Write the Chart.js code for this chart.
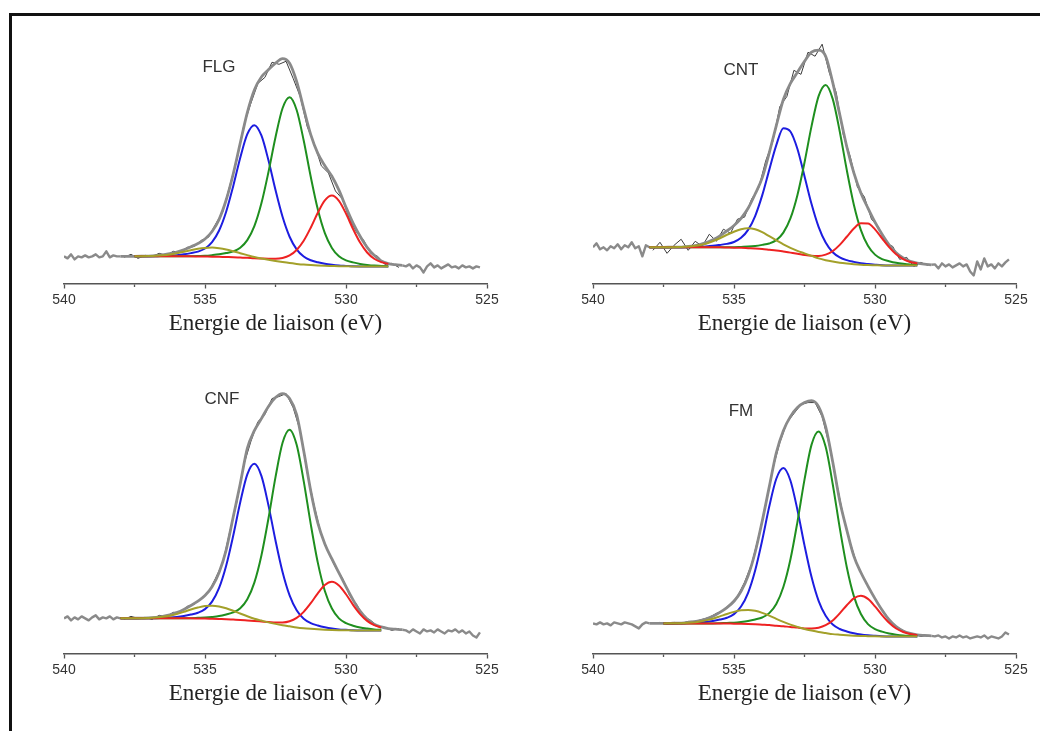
<!DOCTYPE html>
<html><head><meta charset="utf-8">
<script src="https://cdn.jsdelivr.net/npm/chart.js@4.4.1/dist/chart.umd.min.js"></script>
<style>
html,body{margin:0;padding:0;background:#fff;}
#page{position:relative;width:1040px;height:731px;overflow:hidden;background:#fff;}
#frame{position:absolute;left:9px;top:13px;width:1100px;height:800px;border-left:3px solid #111;border-top:3px solid #111;}
canvas{position:absolute;}
.lbl{position:absolute;font-family:"Liberation Sans",Arial,sans-serif;font-size:17px;color:#333;transform:translate(-50%,-50%);white-space:nowrap;}
</style></head>
<body><div id="page"><div id="frame"></div>
<canvas id="cFLG" width="520" height="350" style="left:0px;top:0px"></canvas>
<canvas id="cCNT" width="520" height="350" style="left:520px;top:0px"></canvas>
<canvas id="cCNF" width="520" height="361" style="left:0px;top:370px"></canvas>
<canvas id="cFM" width="520" height="361" style="left:520px;top:370px"></canvas>
<div class="lbl" style="left:219px;top:67px">FLG</div>
<div class="lbl" style="left:741px;top:70px">CNT</div>
<div class="lbl" style="left:222px;top:399px">CNF</div>
<div class="lbl" style="left:741px;top:411px">FM</div>
</div>
<script>
// Binding energy grids (eV)
const energy = [538, 537.75, 537.5, 537.25, 537, 536.75, 536.5, 536.25, 536, 535.75, 535.5, 535.25, 535, 534.75, 534.5, 534.25, 534, 533.75, 533.5, 533.25, 533, 532.75, 532.5, 532.25, 532, 531.75, 531.5, 531.25, 531, 530.75, 530.5, 530.25, 530, 529.75, 529.5, 529.25, 529, 528.75, 528.5, 528.25, 528];
const rawE = [537.875, 537.625, 537.375, 537.125, 536.875, 536.625, 536.375, 536.125, 535.875, 535.625, 535.375, 535.125, 534.875, 534.625, 534.375, 534.125, 533.875, 533.625, 533.375, 533.125, 532.875, 532.625, 532.375, 532.125, 531.875, 531.625, 531.375, 531.125, 530.875, 530.625, 530.375, 530.125, 529.875, 529.625, 529.375, 529.125, 528.875, 528.625, 528.375, 528.125];
const tailLeftE = [540, 539.875, 539.75, 539.625, 539.5, 539.375, 539.25, 539.125, 539, 538.875, 538.75, 538.625, 538.5, 538.375, 538.25, 538.125];
const tailRightE = [527.875, 527.75, 527.625, 527.5, 527.375, 527.25, 527.125, 527, 526.875, 526.75, 526.625, 526.5, 526.375, 526.25, 526.125, 526, 525.875, 525.75, 525.625, 525.5, 525.375, 525.25];

// FLG
const flgBlue = [null, null, 27, 27, 27, 27.1, 27.4, 27.7, 28.2, 29, 30.2, 31.7, 34.8, 41.2, 52.7, 71.4, 96.8, 125.1, 148.5, 157.5, 147.2, 122.5, 92.9, 66.3, 46.5, 34, 26.8, 23.1, 21.1, 19.6, 18.6, 17.9, 17.5, 17.1, 17, 17, 17, 17, 17, null, null];
const flgGreen = [null, null, 27, 27, 27, 27, 27, 27, 27, 27, 27.2, 27.4, 27.6, 28.2, 29, 30.3, 31.9, 35.5, 43.1, 57, 79.7, 110.8, 145.5, 174.3, 185.3, 172.6, 142.2, 106.1, 73.8, 50.1, 35.4, 27.1, 23, 21, 19.5, 18.5, 17.8, 17.5, 17.2, null, null];
const flgRed = [null, null, 27, 27, 27, 27, 27, 27, 27, 27, 27, 26.9, 26.8, 26.7, 26.5, 26.3, 26.1, 25.8, 25.5, 25.1, 24.9, 24.7, 24.6, 25.4, 27.9, 33.3, 42.5, 55.5, 70.3, 82.6, 87.4, 82.2, 69.5, 54.2, 40.7, 30.8, 24.6, 21.2, 19.5, null, null];
const flgOlive = [null, null, 27, 27.1, 27.3, 27.6, 28.1, 28.9, 30.1, 31.5, 33.1, 34.5, 35.4, 35.7, 35.1, 33.9, 32.1, 30.1, 28.2, 26.4, 24.9, 23.6, 22.4, 21.3, 20.3, 19.5, 18.8, 18.3, 17.9, 17.6, 17.4, 17.2, 17.1, 17, 17, 17, 17, 17, 17, null, null];
const flgEnvelope = [27, 27, 27, 27.1, 27.3, 27.7, 28.5, 29.6, 31.3, 33.5, 36.5, 39.8, 44.2, 51.7, 63.8, 83, 108.9, 139.7, 170, 192.5, 205.3, 212.6, 219.1, 223.7, 219.1, 200.9, 173.9, 148.1, 129.4, 117.1, 106.6, 92.8, 75.8, 60, 47, 36, 28, 22.5, 19.8, 18.7, 18.1];
const flgRaw = [26, 29, 25, 28, 27, 30, 28, 32, 31, 36, 37, 43, 46, 59, 71, 97, 122, 157, 179, 199, 205, 220, 218, 221, 204, 186, 156, 139, 117, 110, 92, 84, 64, 51, 43, 30, 27, 19, 20, 16];
const flgTailLeft = [27, 25, 29, 24, 27, 26, 28, 26, 27, 29, 26, 27, 32, 26, 28, 27];
const flgTailRight = [17, 19, 15, 18, 16, 11, 17, 20, 16, 18, 15, 17, 19, 16, 17, 15, 18, 16, 17, 15, 17, 16];

// CNT
const cntBlue = [36, 36, 36, 36, 36, 36, 36.2, 36.5, 36.9, 37.5, 38.4, 39.4, 41.3, 45.4, 53.3, 67.1, 87.6, 113, 137.6, 154.5, 151.2, 133.8, 106.7, 79, 56.3, 40.7, 31.1, 26, 23.2, 21.5, 20.1, 19.3, 18.7, 18.2, 18, 18, 18, 18, 18, null, null];
const cntGreen = [36, 36, 36, 36, 36, 36, 36, 36, 36, 36, 36, 36, 36.1, 36.4, 36.7, 37.3, 38.4, 39.8, 43.1, 50.6, 64.7, 88.1, 120.3, 156.5, 186.3, 197.5, 183.6, 151.2, 112.7, 78.4, 53.1, 37.5, 28.7, 24.3, 22.2, 20.6, 19.6, 18.9, 18.5, null, null];
const cntRed = [36, 36, 36, 36, 36, 36, 36, 36, 36, 36, 36, 35.8, 35.6, 35.5, 35.1, 34.7, 34.2, 33.5, 32.8, 31.8, 30.7, 29.6, 28.4, 27.5, 27.3, 28.7, 32.2, 38.4, 46.5, 54.7, 59.8, 59.6, 53.8, 44.9, 36.1, 29, 24.2, 21.4, 19.9, null, null];
const cntOlive = [36, 36, 36, 36.1, 36.2, 36.5, 37, 38, 39.5, 42, 45, 48.5, 51.5, 54, 55, 54, 51, 47, 43, 39, 35.5, 32.5, 30, 27.5, 25, 23.2, 21.8, 20.6, 19.8, 19.2, 18.7, 18.4, 18.2, 18, 18, 18, 18, 18, 18, null, null];
const cntEnvelope = [36, 36, 36, 36.1, 36.2, 36.5, 37.2, 38.5, 40.4, 43.5, 47.4, 52.3, 57.7, 64.8, 74.8, 89, 105, 130, 157, 183, 199, 210, 221, 230, 232, 226, 200, 168, 136, 110, 90, 75, 61, 49, 38.5, 30.5, 25.3, 22, 20.2, 19.2, 18.6];
const cntRaw = [33, 41, 30, 38, 44, 33, 42, 37, 49, 42, 54, 50, 64, 66, 84, 95, 122, 141, 176, 186, 212, 208, 230, 226, 238, 210, 190, 148, 126, 96, 86, 64, 56, 40, 37, 24, 26, 17, 21, 18];
const cntTailLeft = [36, 40, 34, 36, 33, 37, 35, 39, 34, 38, 36, 41, 35, 37, 27, 38];
const cntTailRight = [19, 15, 20, 17, 19, 16, 18, 20, 17, 19, 12, 8, 22, 14, 25, 17, 19, 15, 20, 17, 21, 24];

// CNF
const cnfBlue = [35, 35, 35, 35, 35, 35.2, 35.5, 35.8, 36.4, 37.4, 38.8, 40.6, 44.2, 51.7, 65.3, 87.4, 117.3, 150.7, 178.4, 189, 176.9, 147.6, 112.6, 81.2, 57.9, 43.1, 34.6, 30.3, 27.9, 26.1, 24.8, 24, 23.6, 23.2, 23, 23, 23, 23, null, null, null];
const cnfGreen = [35, 35, 35, 35, 35, 35, 35, 35, 35, 35, 35.2, 35.5, 35.8, 36.4, 37.3, 38.9, 40.9, 45.1, 54.1, 70.6, 97.6, 134.5, 175.7, 209.9, 223, 207.9, 171.8, 128.9, 90.5, 62.3, 44.8, 35, 30.2, 27.7, 25.9, 24.8, 24, 23.6, null, null, null];
const cnfRed = [35, 35, 35, 35, 35, 35, 35, 35, 35, 35, 35, 34.9, 34.8, 34.6, 34.4, 34.2, 33.8, 33.4, 32.9, 32.4, 31.9, 31.4, 30.8, 30.9, 32.2, 35.5, 41.5, 50.1, 60, 68.2, 71.4, 67.7, 59, 48.5, 39.3, 32.5, 28.2, 25.9, null, null, null];
const cnfOlive = [35, 35, 35.1, 35.2, 35.4, 35.8, 36.6, 37.7, 39.4, 41.5, 43.8, 45.8, 47.3, 47.6, 46.9, 45.1, 42.6, 39.8, 37.1, 34.7, 32.8, 31, 29.5, 28.2, 27.1, 26, 25.2, 24.6, 24.1, 23.7, 23.4, 23.2, 23.1, 23, 23, 23, 23, 23, null, null, null];
const cnfEnvelope = [35, 35, 35.1, 35.2, 35.4, 36, 37.1, 38.5, 40.8, 43.9, 47.8, 52.1, 57.7, 66.5, 80.7, 103, 136, 169.1, 204.4, 222, 234, 246, 255, 259, 254, 238, 202, 162, 130.2, 109.2, 94.2, 80.3, 66.6, 53.4, 42.2, 34.3, 29.2, 26.5, 24.9, 24.2, 23.7];
const cnfRaw = [34, 37, 35, 36, 34, 38, 37, 41, 41, 47, 49, 55, 61, 75, 90, 121, 150, 188, 211, 231, 238, 254, 256, 259, 245, 222, 180, 147, 118, 101, 86, 75, 58, 49, 37, 33, 27, 26, 23, 25];
const cnfTailLeft = [35, 37, 33, 36, 34, 37, 35, 33, 36, 38, 34, 36, 35, 37, 34, 36];
const cnfTailRight = [23, 21, 24, 22, 20, 24, 22, 23, 21, 24, 22, 20, 23, 22, 24, 21, 23, 20, 22, 18, 16, 21];

// FM
const fmBlue = [null, null, 30, 30, 30, 30.2, 30.5, 30.8, 31.4, 32.4, 33.8, 35.6, 39.2, 46.8, 60.5, 82.7, 112.8, 146.4, 174.1, 184.8, 172.4, 143, 107.7, 76.1, 52.4, 37.5, 28.8, 24.4, 22, 20.2, 18.9, 18.1, 17.6, 17.2, 17, 17, 17, 17, 17, null, null];
const fmGreen = [null, null, 30, 30, 30, 30, 30, 30, 30, 30, 30.2, 30.5, 30.7, 31.4, 32.4, 33.9, 35.9, 40.2, 49.3, 66.2, 93.6, 131.2, 173.2, 208.1, 221.3, 205.9, 168.9, 125.1, 86, 57.2, 39.3, 29.3, 24.3, 21.8, 20, 18.8, 18, 17.6, 17.2, null, null];
const fmRed = [null, null, 30, 30, 30, 30, 30, 30, 30, 30, 30, 29.9, 29.7, 29.6, 29.4, 29.1, 28.7, 28.3, 27.7, 27.2, 26.4, 25.8, 25, 24.9, 25.7, 28.2, 32.9, 40, 48.1, 54.9, 57.5, 54.4, 47, 38.3, 30.6, 24.9, 21.4, 19.4, 18.4, null, null];
const fmOlive = [null, null, 30, 30.1, 30.2, 30.4, 30.9, 31.7, 33, 34.7, 37, 39.4, 41.5, 43, 43.4, 42.5, 40.5, 37.7, 34.5, 31.5, 28.8, 26.5, 24.5, 22.9, 21.5, 20.4, 19.3, 18.7, 18.2, 17.8, 17.5, 17.3, 17.1, 17, 17, 17, 17, 17, 17, null, null];
const fmEnvelope = [30, 30, 30, 30.1, 30.2, 30.6, 31.4, 32.5, 34.4, 37.1, 41, 45.7, 52, 62, 77.5, 100.9, 131.8, 166, 200, 222, 236, 245, 250, 252, 246, 226, 191, 152, 123, 97, 80.7, 67.2, 54.7, 43.3, 33.6, 26.7, 22.4, 20, 18.6, 18, 17.6];
const fmRaw = [30, 31, 29, 31, 30, 32, 32, 34, 36, 40, 43, 50, 57, 71, 89, 117, 148, 184, 210, 230, 239, 248, 250, 250, 236, 208, 172, 137, 110, 88, 74, 61, 49, 39, 29, 25, 21, 19, 17, 18];
const fmTailLeft = [30, 29, 31, 29, 30, 28, 31, 30, 29, 31, 30, 29, 27, 25, 29, 31];
const fmTailRight = [17, 18, 16, 17, 15, 17, 16, 18, 16, 17, 15, 16, 17, 16, 18, 15, 17, 16, 15, 17, 21, 19];

const axisTitle = 'Energie de liaison (eV)';
const COLORS = {blue:'#1d1de0', green:'#1f8f1f', red:'#ee2222', olive:'#a3a02a', gray:'#8a8a8a', raw:'#3c3c3c'};

function pts(xs, ys) { return xs.map((x, i) => ({x: x, y: ys[i]})); }

function makePanel(id, d, pad) {
  const leftPts = pts(tailLeftE, d.tailL).concat([{x: energy[0], y: d.env[0]}]);
  const rightPts = [{x: energy[energy.length - 1], y: d.env[d.env.length - 1]}].concat(pts(tailRightE, d.tailR));
  const smooth = {cubicInterpolationMode: 'monotone', borderWidth: 2, pointRadius: 0, spanGaps: false};
  new Chart(document.getElementById(id), {
    type: 'line',
    data: {datasets: [
      Object.assign({label: 'C4', data: pts(energy, d.olive), borderColor: COLORS.olive}, smooth),
      Object.assign({label: 'C3', data: pts(energy, d.red), borderColor: COLORS.red}, smooth),
      Object.assign({label: 'C2', data: pts(energy, d.green), borderColor: COLORS.green}, smooth),
      Object.assign({label: 'C1', data: pts(energy, d.blue), borderColor: COLORS.blue}, smooth),
      {label: 'Enveloppe', data: pts(energy, d.env), borderColor: COLORS.gray, borderWidth: 2.8, pointRadius: 0, cubicInterpolationMode: 'monotone', borderJoinStyle: 'round'},
      {label: 'Fond gauche', data: leftPts, borderColor: COLORS.gray, borderWidth: 2.4, pointRadius: 0, tension: 0, borderJoinStyle: 'round'},
      {label: 'Fond droit', data: rightPts, borderColor: COLORS.gray, borderWidth: 2.4, pointRadius: 0, tension: 0, borderJoinStyle: 'round'},
      {label: 'Mesure', data: pts(rawE, d.raw), borderColor: COLORS.raw, borderWidth: 1, pointRadius: 0, tension: 0}
    ]},
    options: {
      responsive: false, animation: false,
      layout: {padding: pad},
      plugins: {legend: {display: false}, tooltip: {enabled: false}, title: {display: false}},
      scales: {
        x: {
          type: 'linear', reverse: true, min: 525, max: 540,
          ticks: {stepSize: 2.5, autoSkip: false, maxRotation: 0, padding: 3.5, color: '#333',
                  font: {family: '"Liberation Sans", Arial, sans-serif', size: 14},
                  callback: v => (Math.abs(v % 5) < 1e-6 ? String(v) : '')},
          grid: {drawOnChartArea: false, drawTicks: true, tickLength: 5, tickColor: '#555', tickWidth: 1.3,
                 tickBorderDash: c => (c.tick && Math.abs(c.tick.value % 5) > 1e-6 ? [2.5, 40] : [])},
          border: {display: true, color: '#555', width: 1.5},
          title: {display: true, text: axisTitle, color: '#222', padding: {top: -2, bottom: 3},
                  font: {family: '"Liberation Serif", "Times New Roman", serif', size: 23}}
        },
        y: {display: false, min: 0, max: 270}
      }
    }
  });
}

makePanel('cFLG', {blue: flgBlue, green: flgGreen, red: flgRed, olive: flgOlive, env: flgEnvelope, raw: flgRaw, tailL: flgTailLeft, tailR: flgTailRight},
  {left: 64, right: 33, top: 12, bottom: 9.1});
makePanel('cCNT', {blue: cntBlue, green: cntGreen, red: cntRed, olive: cntOlive, env: cntEnvelope, raw: cntRaw, tailL: cntTailLeft, tailR: cntTailRight},
  {left: 73, right: 24, top: 12, bottom: 9.1});
makePanel('cCNF', {blue: cnfBlue, green: cnfGreen, red: cnfRed, olive: cnfOlive, env: cnfEnvelope, raw: cnfRaw, tailL: cnfTailLeft, tailR: cnfTailRight},
  {left: 64, right: 33, top: 12.5, bottom: 20.1});
makePanel('cFM', {blue: fmBlue, green: fmGreen, red: fmRed, olive: fmOlive, env: fmEnvelope, raw: fmRaw, tailL: fmTailLeft, tailR: fmTailRight},
  {left: 73, right: 24, top: 12.5, bottom: 20.1});
</script>
</body></html>
